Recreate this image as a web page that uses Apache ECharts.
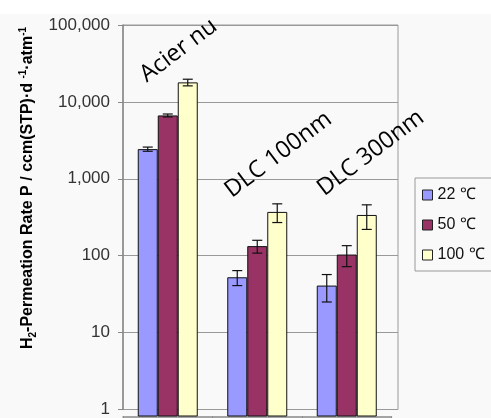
<!DOCTYPE html>
<html>
<head>
<meta charset="utf-8">
<script src="https://cdn.jsdelivr.net/npm/echarts@6/dist/echarts.min.js"></script>
<style>
  html, body { margin: 0; padding: 0; background: #f9f9f9; }
  #chart { width: 491px; height: 418px; }
</style>
</head>
<body>
<div id="chart"></div>
<script>
// Hydrogen permeation rate of bare steel vs. DLC-coated samples
const categories = ['Acier nu', 'DLC 100nm', 'DLC 300nm'];
const seriesNames = ['22 ℃', '50 ℃', '100 ℃'];

const rate22 = [2600, 60, 47];
const rate50 = [7000, 150, 117];
const rate100 = [18500, 410, 375];

const err22 = [160, 13, 18];
const err50 = [300, 28, 35];
const err100 = [1800, 110, 130];

const yTicks = [1, 10, 100, 1000, 10000, 100000];

const values = [rate22, rate50, rate100];
const errors = [err22, err50, err100];
const colors = ['#9999ff', '#993366', '#ffffcc'];

const chart = echarts.init(document.getElementById('chart'), null, { renderer: 'canvas' });

const BAR_W = 20;
const FONT = '"Liberation Sans", Arial, sans-serif';

// per-group placement (in the rotated label frame) of the category captions
const captionOffset = [[-36, -15], [-31, -29], [-26, -31]];

const barSeries = values.map((vals, k) => ({
  name: seriesNames[k],
  type: 'bar',
  xAxisIndex: 1,
  yAxisIndex: 1,
  barWidth: BAR_W,
  barGap: '0%',
  itemStyle: { color: colors[k], borderColor: '#111', borderWidth: 1 },
  z: 2,
  data: vals.map((v, i) => {
    if (k !== 2) return v;
    return {
      value: v,
      label: {
        show: true,
        position: 'top',
        distance: 5,
        formatter: categories[i],
        rotate: 37,
        align: 'left',
        verticalAlign: 'bottom',
        offset: captionOffset[i],
        fontFamily: '"Open Sans", sans-serif',
        fontSize: 23.5,
        color: '#000'
      }
    };
  })
}));

const errorSeries = values.map((vals, k) => ({
  name: seriesNames[k],
  type: 'custom',
  xAxisIndex: 1,
  yAxisIndex: 1,
  z: 5,
  silent: true,
  encode: { x: 0, y: [1, 2] },
  data: vals.map((v, i) => [i, v - errors[k][i], v + errors[k][i]]),
  renderItem: function (params, api) {
    const i = api.value(0);
    const lo = api.coord([i, api.value(1)]);
    const hi = api.coord([i, api.value(2)]);
    const x = lo[0] + (k - 1) * BAR_W;
    const cap = 5;
    const style = { stroke: '#111', lineWidth: 1.2, fill: null };
    return {
      type: 'group',
      children: [
        { type: 'line', shape: { x1: x, y1: lo[1], x2: x, y2: hi[1] }, style },
        { type: 'line', shape: { x1: x - cap, y1: lo[1], x2: x + cap, y2: lo[1] }, style },
        { type: 'line', shape: { x1: x - cap, y1: hi[1], x2: x + cap, y2: hi[1] }, style }
      ]
    };
  }
}));

const option = {
  backgroundColor: '#f9f9f9',
  animation: false,
  graphic: [
    { type: 'rect', left: 0, top: 0, shape: { width: 491, height: 14 }, style: { fill: '#ffffff' }, z: -10 },
    {
      type: 'text',
      x: 28,
      y: 188,
      rotation: Math.PI / 2,
      style: {
        text: '{b|H}{s|2}{b|-Permeation Rate P / ccm(STP)·d }{p|-1}{b|·atm}{p|-1}',
        align: 'center',
        verticalAlign: 'middle',
        rich: {
          b: { fontFamily: FONT, fontWeight: 'bold', fontSize: 16, color: '#111', lineHeight: 20 },
          s: { fontFamily: FONT, fontWeight: 'bold', fontSize: 10, color: '#111', lineHeight: 20, verticalAlign: 'bottom' },
          p: { fontFamily: FONT, fontWeight: 'bold', fontSize: 10, color: '#111', lineHeight: 20, verticalAlign: 'top' }
        }
      }
    }
  ],
  legend: {
    data: seriesNames,
    orient: 'vertical',
    left: 415,
    top: 178,
    padding: [9, 40, 8, 7],
    itemWidth: 10,
    itemHeight: 10,
    itemGap: 14,
    icon: 'rect',
    borderColor: '#999',
    borderWidth: 1,
    itemStyle: { borderColor: '#222', borderWidth: 1 },
    textStyle: { fontFamily: FONT, fontSize: 16, color: '#111' }
  },
  grid: [
    // plot frame with gridlines
    { left: 123, top: 25, width: 275, height: 391.5, show: true, borderColor: '#9a9a9a', borderWidth: 1, backgroundColor: 'transparent' },
    // bar area
    { left: 123, top: 25, width: 268.5, height: 391.5 }
  ],
  xAxis: [
    { gridIndex: 0, type: 'category', data: categories, show: false },
    {
      gridIndex: 1,
      type: 'category',
      data: categories,
      axisLabel: { show: false },
      axisLine: { show: true, lineStyle: { color: '#888', width: 1.5 } },
      axisTick: { show: true, length: 5, lineStyle: { color: '#888' } },
      splitLine: { show: false }
    }
  ],
  yAxis: [
    {
      gridIndex: 0,
      type: 'log',
      logBase: 10,
      min: yTicks[0],
      max: yTicks[yTicks.length - 1],
      axisLine: { show: true, lineStyle: { color: '#888', width: 1.5 } },
      axisTick: { show: true, length: 5, lineStyle: { color: '#888' } },
      axisLabel: {
        margin: 13,
        fontFamily: FONT,
        fontSize: 17,
        color: '#333',
        formatter: v => Number(v).toLocaleString('en-US')
      },
      splitLine: { show: true, lineStyle: { color: '#999', width: 1 } }
    },
    {
      gridIndex: 1,
      type: 'log',
      logBase: 10,
      min: yTicks[0],
      max: yTicks[yTicks.length - 1],
      show: false
    }
  ],
  series: [...barSeries, ...errorSeries]
};

chart.setOption(option);
</script>
</body>
</html>
